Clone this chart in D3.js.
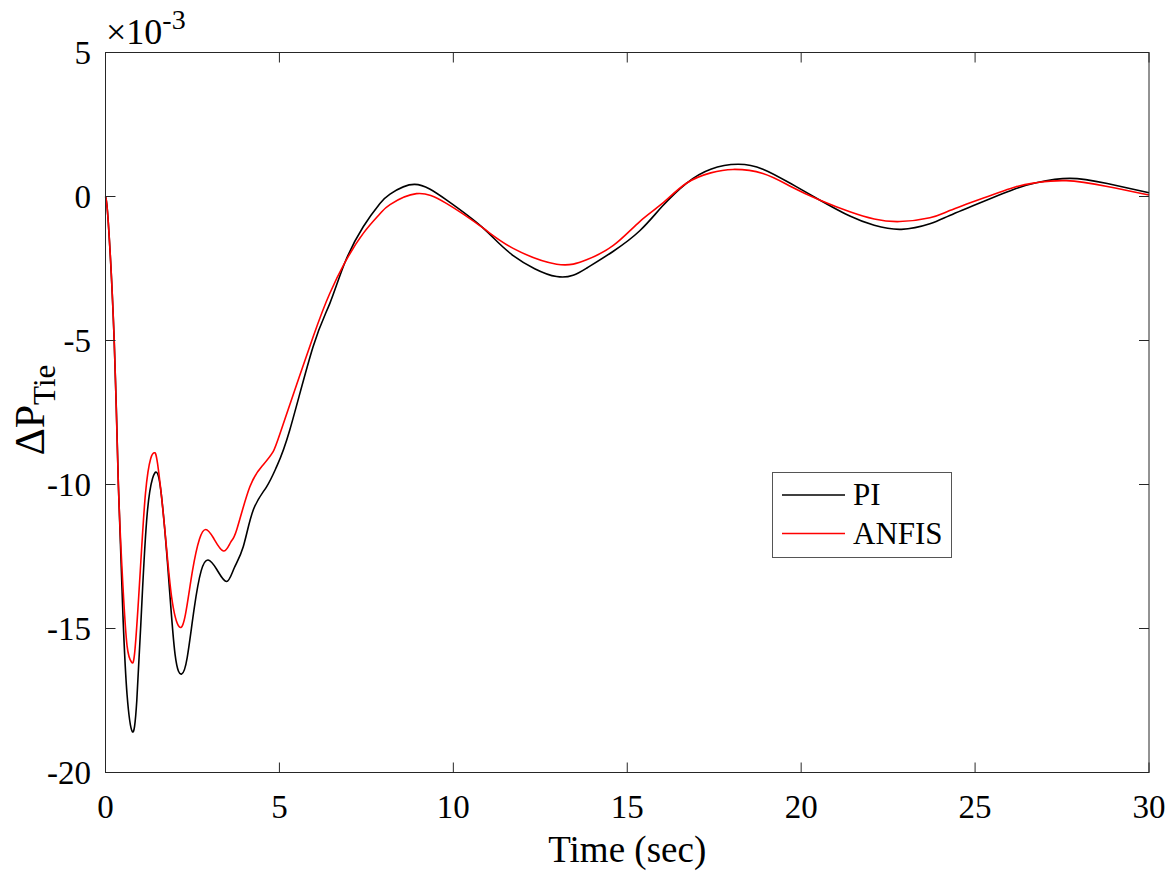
<!DOCTYPE html>
<html>
<head>
<meta charset="UTF-8">
<title>Delta P Tie</title>
<style>
  body { margin: 0; background: #fff; }
  svg text { font-family: "Liberation Serif", "Times New Roman", serif; fill: #000; }
</style>
</head>
<body>
<script src="https://d3js.org/d3.v7.min.js"></script>
<script>
// time (sec) and response values (x 1e-3)
var piTime = [0, 0.08, 0.25, 0.37, 0.5, 0.62, 0.77, 0.9, 1.05, 1.2, 1.35, 1.47, 1.6, 1.8, 2.0, 2.19, 2.35, 2.55, 2.75, 2.95, 3.2, 3.48, 3.7, 3.96, 4.25, 4.63, 4.92, 5.3, 5.97, 6.45, 6.88, 7.41, 7.89, 8.18, 8.89, 9.8, 10.86, 11.72, 12.97, 13.83, 14.6, 15.36, 16.0, 16.7, 17.4, 18.18, 18.9, 19.7, 20.53, 21.4, 22.1, 22.88, 23.7, 24.27, 25.22, 26.18, 26.76, 27.72, 28.8, 30];
var piValue = [0, -0.9, -5, -10, -14.5, -17.3, -18.58, -17.5, -14, -11, -9.8, -9.58, -10.3, -13, -15.9, -16.58, -16, -14.3, -13, -12.62, -12.95, -13.37, -12.9, -12.16, -10.88, -10.08, -9.38, -8.1, -5.21, -3.71, -2.3, -1.05, -0.24, 0.08, 0.42, -0.12, -1.10, -2.05, -2.78, -2.49, -1.9, -1.19, -0.35, 0.46, 0.95, 1.12, 0.95, 0.45, -0.12, -0.68, -1.0, -1.14, -0.95, -0.66, -0.18, 0.28, 0.48, 0.63, 0.45, 0.13];

var anfisTime = [0, 0.08, 0.25, 0.37, 0.5, 0.62, 0.75, 0.85, 1.0, 1.15, 1.3, 1.4, 1.5, 1.7, 1.9, 2.12, 2.3, 2.5, 2.7, 2.88, 3.1, 3.39, 3.6, 3.77, 4.15, 4.53, 4.82, 5.11, 5.97, 6.45, 6.88, 7.41, 7.89, 8.18, 8.94, 9.8, 10.86, 11.72, 12.97, 13.83, 14.6, 15.36, 16.0, 16.7, 17.4, 18.04, 18.9, 19.7, 20.53, 21.4, 22.1, 22.83, 23.7, 24.27, 25.22, 26.18, 26.76, 27.62, 28.8, 30];
var anfisValue = [0, -0.9, -5, -10, -13.5, -15.6, -16.17, -15.7, -13, -10.3, -9.1, -8.9, -9.3, -11.5, -13.9, -14.94, -14.5, -13, -11.9, -11.56, -11.85, -12.31, -12.0, -11.58, -10.08, -9.32, -8.86, -7.9, -4.87, -3.36, -2.3, -1.28, -0.6, -0.28, 0.10, -0.24, -1.10, -1.8, -2.35, -2.2, -1.7, -0.87, -0.25, 0.46, 0.82, 0.94, 0.8, 0.35, -0.12, -0.53, -0.78, -0.87, -0.74, -0.49, -0.06, 0.34, 0.48, 0.55, 0.35, 0.05];

var xTicks = [0, 5, 10, 15, 20, 25, 30];
var yTicks = [-20, -15, -10, -5, 0, 5];
var seriesNames = ["PI", "ANFIS"];
var seriesColors = ["#000000", "#ff0000"];

var width = 1176, height = 872;
var margin = { left: 105.5, right: 1149, top: 52.5, bottom: 772.5 };
var fontFam = "'Liberation Serif', 'Times New Roman', serif";

var svg = d3.select("body").append("svg").attr("width", width).attr("height", height)
  .attr("font-family", fontFam);

var x = d3.scaleLinear().domain([0, 30]).range([margin.left, margin.right]);
var y = d3.scaleLinear().domain([-20, 5]).range([margin.bottom, margin.top]);

var axisColor = "#262626";
var tickLen = 10;

// lines
var line = d3.line()
  .x(function(d) { return x(d[0]); })
  .y(function(d) { return y(d[1]); })
  .curve(d3.curveNatural);

var plot = svg.append("g");
[[piTime, piValue], [anfisTime, anfisValue]].forEach(function(s, i) {
  var pts = s[0].map(function(t, k) { return [t, s[1][k]]; });
  plot.append("path")
    .datum(pts)
    .attr("fill", "none")
    .attr("stroke", seriesColors[i])
    .attr("stroke-width", 1.6)
    .attr("stroke-linejoin", "round")
    .attr("d", line);
});

// box
svg.append("rect")
  .attr("x", margin.left).attr("y", margin.top)
  .attr("width", margin.right - margin.left).attr("height", margin.bottom - margin.top)
  .attr("fill", "none").attr("stroke", axisColor).attr("stroke-width", 1);

// ticks on all four sides, pointing in
var axes = svg.append("g").attr("stroke", axisColor).attr("stroke-width", 1);
xTicks.forEach(function(t) {
  axes.append("line").attr("x1", x(t)).attr("x2", x(t)).attr("y1", margin.bottom).attr("y2", margin.bottom - tickLen);
  axes.append("line").attr("x1", x(t)).attr("x2", x(t)).attr("y1", margin.top).attr("y2", margin.top + tickLen);
});
yTicks.forEach(function(t) {
  axes.append("line").attr("x1", margin.left).attr("x2", margin.left + tickLen).attr("y1", y(t)).attr("y2", y(t));
  axes.append("line").attr("x1", margin.right).attr("x2", margin.right - tickLen).attr("y1", y(t)).attr("y2", y(t));
});

// tick labels
svg.selectAll(".xt").data(xTicks).enter().append("text")
  .attr("x", function(d) { return x(d); })
  .attr("y", 818)
  .attr("text-anchor", "middle")
  .style("font-size", "33px")
  .text(function(d) { return d; });

svg.selectAll(".yt").data(yTicks).enter().append("text")
  .attr("x", 91)
  .attr("y", function(d) { return y(d) + 11.5; })
  .attr("text-anchor", "end")
  .style("font-size", "33px")
  .text(function(d) { return d; });

// exponent
var expo = svg.append("text").attr("x", 106).attr("y", 44).style("font-size", "36px");
expo.append("tspan").text("\u00d710");
expo.append("tspan").attr("dy", -15).style("font-size", "28px").text("-3");

// axis labels
svg.append("text")
  .attr("x", (margin.left + margin.right) / 2)
  .attr("y", 862)
  .attr("text-anchor", "middle")
  .style("font-size", "37px")
  .text("Time (sec)");

var yl = svg.append("text")
  .attr("transform", "translate(44," + 410 + ") rotate(-90)")
  .attr("text-anchor", "middle")
  .style("font-size", "42px");
yl.append("tspan").text("\u0394P");
yl.append("tspan").attr("dy", 11).style("font-size", "31px").text("Tie");

// legend
var leg = svg.append("g");
leg.append("rect")
  .attr("x", 772.5).attr("y", 472.5).attr("width", 179).attr("height", 85)
  .attr("fill", "#fff").attr("stroke", "#555").attr("stroke-width", 1);
seriesNames.forEach(function(n, i) {
  var yy = 495 + i * 38.5;
  leg.append("line").attr("x1", 782).attr("x2", 845).attr("y1", yy).attr("y2", yy)
    .attr("stroke", seriesColors[i]).attr("stroke-width", 1.6);
  leg.append("text").attr("x", 853).attr("y", yy + 10).style("font-size", "31px").text(n);
});
</script>
</body>
</html>
